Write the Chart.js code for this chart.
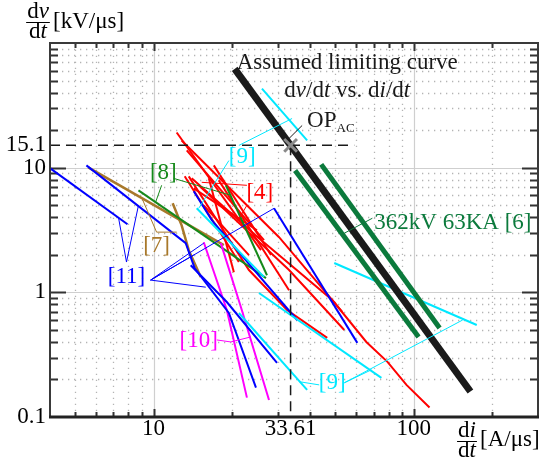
<!DOCTYPE html>
<html>
<head>
<meta charset="utf-8">
<script src="https://cdn.jsdelivr.net/npm/chart.js@4.4.1/dist/chart.umd.min.js"></script>
<style>
  html, body { margin: 0; padding: 0; background: #fff; }
</style>
</head>
<body>
<canvas id="myChart" width="543" height="461"></canvas>
<script>
// values: x = di/dt [A/us], y = dv/dt [kV/us]
const xTicks = [10, 33.61, 100];
const yTicks = [0.1, 1, 10, 15.1];
const opPoint = [33.61, 15.1];
const opLineEnd = 59;

const limitCurve = [[20.5, 62], [165, 0.16]];

const ref6 = [
  [[34.98, 9.51], [104.3, 0.439]],
  [[44.06, 10.63], [125.6, 0.518]]
];
const ref11 = [
  [[4.01, 9.87], [7.94, 3.52]],
  [[5.52, 10.43], [13.29, 2.48], [14.39, 1.56], [19.47, 0.683], [24.74, 0.172]],
  [[13.89, 1.65], [19.12, 0.836], [29.81, 0.272]],
  [[14.27, 6.46], [16.74, 3.79], [24.74, 1.45], [35.61, 0.6]],
  [[29.03, 4.72], [60.66, 0.393]]
];
const ref7 = [
  [[5.61, 10.06], [18.62, 2.39]],
  [[11.84, 5.18], [12.82, 3.45], [13.65, 2.18], [15.18, 1.33]]
];
const ref8 = [
  [[8.75, 6.58], [27.04, 1.3]],
  [[18.96, 7.22], [27.28, 1.37]]
];
const ref9 = [
  [[26.09, 43.0], [38.9, 16.53]],
  [[14.65, 4.72], [26.56, 1.33]],
  [[25.41, 0.987], [75.06, 0.206]],
  [[21.27, 0.683], [38.9, 0.165]],
  [[49.45, 1.72], [174.5, 0.547]]
];
const ref10 = [
  [[15.59, 2.52], [19.12, 0.722], [22.84, 0.143]],
  [[18.13, 2.48], [21.65, 0.762], [27.77, 0.137]]
];
const ref4 = [
  [[12.27, 19.16], [25.86, 2.18]],
  [[12.82, 16.53], [30.35, 2.77], [53.09, 0.696]],
  [[14.01, 8.21], [25.41, 2.72], [48.6, 0.868], [65.7, 0.4], [79.2, 0.277], [93.7, 0.181], [114.9, 0.119]],
  [[13.65, 8.52], [23.25, 1.51], [32.58, 0.722], [46.47, 0.431]],
  [[14.91, 7.22], [33.16, 1.51], [54.05, 0.499]],
  [[16.3, 8.21], [20.35, 1.45]],
  [[13.41, 13.75], [26.56, 2.62]],
  [[14.27, 6.83], [24.96, 3.15]],
  [[17.04, 10.43], [28.27, 1.99]],
  [[15.59, 4.99], [23.25, 1.99]],
  [[17.81, 7.91], [33.16, 1.04]],
  [[13.17, 8.52], [21.27, 1.75]]
];

const BLACK = '#1a1a1a', RED = '#ff0000', BLUE = '#0000ff', CYAN = '#00e8ff',
      MAG = '#ff00ff', BROWN = '#a8782a', GREEN8 = '#15891a', GREEN6 = '#0b7a3c';
const FONT = '"Liberation Serif", "Times New Roman", serif';
const FS = 23;

// callout texts and their leader lines, in data units
const notes = [
  { t: [['Assumed limiting curve', 0]], at: [55.5, 69.6], c: BLACK },
  { t: [['d', 0], ['v', 1], ['/d', 0], ['t', 1], [' vs. d', 0], ['i', 1], ['/d', 0], ['t', 1]], at: [55.5, 41.5], c: BLACK },
  { t: [['[8]', 0]], at: [10.9, 9.0], c: GREEN8 },
  { t: [['[7]', 0]], at: [10.27, 2.35], c: BROWN },
  { t: [['[11]', 0]], at: [7.87, 1.33], c: BLUE },
  { t: [['[10]', 0]], at: [14.91, 0.408], c: MAG },
  { t: [['[9]', 0]], at: [21.9, 12.1], c: CYAN },
  { t: [['[9]', 0]], at: [48.6, 0.188], c: CYAN },
  { t: [['[4]', 0]], at: [25.6, 6.23], c: RED },
  { t: [['362kV 63KA [6]', 0]], at: [70.5, 3.58], c: GREEN6, left: true }
];
const leaders = [
  { c: BLUE, pts: [[7.33, 4.0], [7.87, 1.75], [8.75, 4.99]] },
  { c: BLUE, pts: [[9.74, 1.254], [14.27, 1.99]] },
  { c: BLUE, pts: [[9.74, 1.254], [15.59, 2.48]] },
  { c: BLUE, pts: [[9.74, 1.254], [15.87, 1.1]] },
  { c: BLUE, pts: [[9.74, 1.254], [29.03, 4.72]] },
  { c: BROWN, pts: [[8.99, 5.79], [10.27, 3.04], [12.27, 3.04]] },
  { c: GREEN8, pts: [[11.94, 8.21], [19.8, 6.0]] },
  { c: GREEN8, pts: [[10.74, 7.22], [10.18, 5.28]] },
  { c: RED, pts: [[22.84, 7.22], [15.31, 7.63]] },
  { c: RED, pts: [[22.84, 4.99], [20.9, 3.65]] },
  { c: CYAN, pts: [[21.27, 15.08], [34.06, 24.8]] },
  { c: CYAN, pts: [[19.47, 11.4], [14.91, 4.72]] },
  { c: CYAN, pts: [[54.05, 0.188], [68.7, 0.239]] },
  { c: CYAN, pts: [[54.05, 0.188], [154.1, 0.6]] },
  { c: CYAN, pts: [[43.3, 0.181], [36.25, 0.192]] },
  { c: MAG, pts: [[17.5, 0.415], [19.8, 0.4], [23.66, 0.439]] },
  { c: GREEN6, pts: [[69.3, 3.93], [54.05, 2.98]] },
  { c: BLACK, pts: [[37.23, 21.8], [33.16, 17.15]] }
];

function xy(pts) { return pts.map(p => ({ x: p[0], y: p[1] })); }
function line(pts, color, width, extra) {
  return Object.assign({
    data: xy(pts), showLine: true, borderColor: color, backgroundColor: color,
    borderWidth: width, pointRadius: 0, fill: false, tension: 0
  }, extra || {});
}

const datasets = [];
datasets.push(line([opPoint], '#8a8a8a', 3, { showLine: false, pointRadius: 9, pointStyle: 'crossRot' }));
datasets.push(line(limitCurve, BLACK, 7));
ref6.forEach(p => datasets.push(line(p, GREEN6, 5)));
datasets.push(line([[4, opPoint[1]], [opLineEnd, opPoint[1]]], BLACK, 1.5, { borderDash: [10, 6] }));
datasets.push(line([opPoint, [opPoint[0], 0.1]], BLACK, 1.5, { borderDash: [10, 6] }));
ref9.forEach(p => datasets.push(line(p, CYAN, 2)));
ref11.forEach(p => datasets.push(line(p, BLUE, 2)));
ref10.forEach(p => datasets.push(line(p, MAG, 2)));
ref8.forEach(p => datasets.push(line(p, GREEN8, 2)));
ref4.forEach(p => datasets.push(line(p, RED, 2)));
ref7.forEach(p => datasets.push(line(p, BROWN, 2.5)));

function richText(ctx, parts, x, y, size, color, left) {
  ctx.save();
  ctx.fillStyle = color;
  ctx.textBaseline = 'middle';
  ctx.textAlign = 'left';
  let w = 0;
  parts.forEach(p => { ctx.font = (p[1] ? 'italic ' : '') + size + 'px ' + FONT; w += ctx.measureText(p[0]).width; });
  let cx = left ? x : x - w / 2;
  parts.forEach(p => {
    ctx.font = (p[1] ? 'italic ' : '') + size + 'px ' + FONT;
    ctx.fillText(p[0], cx, y);
    cx += ctx.measureText(p[0]).width;
  });
  ctx.restore();
  return w;
}

function fraction(ctx, top, bottom, cx, cy, size) {
  const w = richText(ctx, top, cx, cy - 10, size, '#000');
  richText(ctx, bottom, cx, cy + 10, size, '#000');
  ctx.save();
  ctx.strokeStyle = '#000'; ctx.lineWidth = 1;
  ctx.beginPath(); ctx.moveTo(cx - w / 2 - 1, cy + 0.5); ctx.lineTo(cx + w / 2 + 1, cy + 0.5); ctx.stroke();
  ctx.restore();
}

function decadeSteps(min, max) {
  const out = [];
  for (let d = 0.01; d <= max; d *= 10) {
    for (let k = 1; k <= 9; k++) {
      const v = +(k * d).toPrecision(3);
      if (v > min && v < max) out.push({ v: v, major: k === 1 });
    }
  }
  return out;
}

const gridPlugin = {
  id: 'gridPlugin',
  beforeDatasetsDraw(chart) {
    const { ctx, chartArea: a, scales: { x, y } } = chart;
    const xs = decadeSteps(4, 300), ys = decadeSteps(0.1, 100);
    ctx.save();
    ctx.lineWidth = 1.3;
    ctx.strokeStyle = '#b4b4b4';
    ctx.setLineDash([1.3, 4.7]);
    xs.filter(s => !s.major).forEach(s => {
      const px = Math.round(x.getPixelForValue(s.v)) + 0.5;
      ctx.beginPath(); ctx.moveTo(px, a.bottom); ctx.lineTo(px, a.top); ctx.stroke();
    });
    ys.filter(s => !s.major).forEach(s => {
      const py = Math.round(y.getPixelForValue(s.v)) + 0.5;
      ctx.beginPath(); ctx.moveTo(a.left, py); ctx.lineTo(a.right, py); ctx.stroke();
    });
    ctx.setLineDash([]);
    ctx.strokeStyle = '#cfcfcf';
    ctx.lineWidth = 1.2;
    xs.filter(s => s.major).forEach(s => {
      const px = Math.round(x.getPixelForValue(s.v)) + 0.5;
      ctx.beginPath(); ctx.moveTo(px, a.bottom); ctx.lineTo(px, a.top); ctx.stroke();
    });
    ys.filter(s => s.major).forEach(s => {
      const py = Math.round(y.getPixelForValue(s.v)) + 0.5;
      ctx.beginPath(); ctx.moveTo(a.left, py); ctx.lineTo(a.right, py); ctx.stroke();
    });
    // inward ticks
    ctx.strokeStyle = '#333';
    ctx.lineWidth = 2;
    ys.forEach(s => {
      const py = Math.round(y.getPixelForValue(s.v)) + 0.5;
      const len = s.major ? 16 : 8;
      ctx.beginPath(); ctx.moveTo(a.left, py); ctx.lineTo(a.left + len, py); ctx.stroke();
      ctx.beginPath(); ctx.moveTo(a.right, py); ctx.lineTo(a.right - len, py); ctx.stroke();
    });
    xs.forEach(s => {
      const px = Math.round(x.getPixelForValue(s.v)) + 0.5;
      const len = s.major ? 8 : 5;
      ctx.beginPath(); ctx.moveTo(px, a.bottom); ctx.lineTo(px, a.bottom - len); ctx.stroke();
      ctx.beginPath(); ctx.moveTo(px, a.top); ctx.lineTo(px, a.top + len); ctx.stroke();
    });
    ctx.restore();
  },
  afterDatasetsDraw(chart) {
    const { ctx, chartArea: a, scales: { x, y } } = chart;
    ctx.save();
    ctx.lineWidth = 1;
    leaders.forEach(l => {
      ctx.strokeStyle = l.c;
      ctx.beginPath();
      l.pts.forEach((p, i) => {
        const px = x.getPixelForValue(p[0]), py = y.getPixelForValue(p[1]);
        if (i) ctx.lineTo(px, py); else ctx.moveTo(px, py);
      });
      ctx.stroke();
    });
    ctx.restore();
    notes.forEach(n => {
      richText(ctx, n.t, x.getPixelForValue(n.at[0]), y.getPixelForValue(n.at[1]), FS, n.c, n.left);
    });
    // OP_AC callout
    const ox = x.getPixelForValue(38.9), oy = y.getPixelForValue(23.9);
    const w = richText(ctx, [['OP', 0]], ox, oy, FS, BLACK, true);
    richText(ctx, [['AC', 0]], ox + w, oy + 8, 13, BLACK, true);
    // frame
    ctx.save();
    ctx.strokeStyle = '#3a3a3a';
    ctx.lineWidth = 2;
    ctx.strokeRect(a.left, a.top, a.right - a.left, a.bottom - a.top);
    ctx.strokeStyle = '#222';
    ctx.lineWidth = 3;
    ctx.beginPath(); ctx.moveTo(a.left - 1, a.bottom); ctx.lineTo(a.right + 1, a.bottom); ctx.stroke();
    ctx.restore();
    // axis titles
    fraction(ctx, [['d', 0], ['v', 1]], [['d', 0], ['t', 1]], 38, 22, FS);
    richText(ctx, [['[kV/\u03bcs]', 0]], 53, 22, FS, '#000', true);
    fraction(ctx, [['d', 0], ['i', 1]], [['d', 0], ['t', 1]], 467, 441, FS);
    richText(ctx, [['[A/\u03bcs]', 0]], 480, 440, FS, '#000', true);
  }
};

const ctx = document.getElementById('myChart');
const chart = new Chart(ctx, {
  type: 'scatter',
  data: { datasets: datasets },
  options: {
    responsive: false,
    animation: false,
    devicePixelRatio: 1,
    layout: { autoPadding: false, padding: { top: 43, right: 5, left: 0, bottom: 0 } },
    plugins: { legend: { display: false }, tooltip: { enabled: false } },
    scales: {
      x: {
        type: 'logarithmic', min: 4, max: 300,
        afterBuildTicks: s => { s.ticks = xTicks.map(v => ({ value: v })); },
        afterFit: s => { s.height = 44; s.paddingLeft = 0; s.paddingRight = 0; },
        grid: { display: false, drawTicks: false, tickLength: 0 }, border: { display: false },
        ticks: { autoSkip: false, maxRotation: 0, padding: 0, color: '#000',
                 font: { family: FONT, size: FS, lineHeight: 1 }, callback: v => String(v) }
      },
      y: {
        type: 'logarithmic', min: 0.1, max: 100,
        afterBuildTicks: s => { s.ticks = yTicks.map(v => ({ value: v })); },
        afterFit: s => { s.width = 50; s.paddingTop = 0; s.paddingBottom = 0; },
        grid: { display: false, drawTicks: false, tickLength: 0 }, border: { display: false },
        ticks: { autoSkip: false, padding: 4, color: '#000',
                 font: { family: FONT, size: FS }, callback: v => String(v) }
      }
    }
  },
  plugins: [gridPlugin]
});
</script>
</body>
</html>
